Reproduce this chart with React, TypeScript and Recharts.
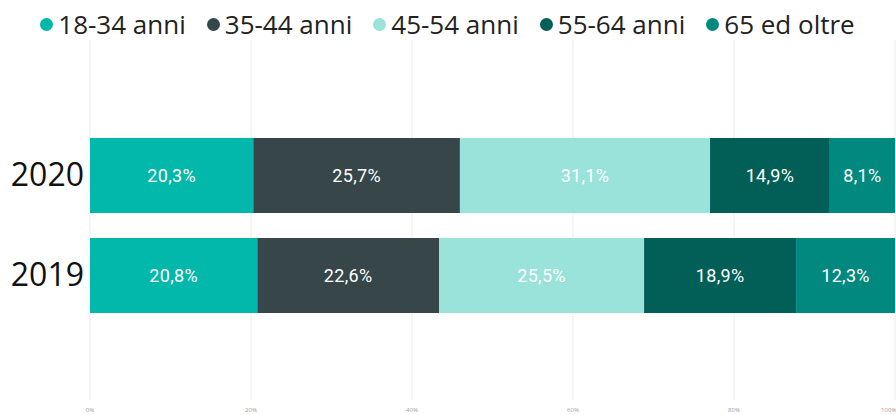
import React from 'react';
import { BarChart, Bar, XAxis, YAxis, CartesianGrid, Legend, LabelList } from 'recharts';

// anni e fasce d'età
const years = ['2020', '2019'];
const groups = ['18-34 anni', '35-44 anni', '45-54 anni', '55-64 anni', '65 ed oltre'];
const values2020 = [20.3, 25.7, 31.1, 14.9, 8.1];
const values2019 = [20.8, 22.6, 25.5, 18.9, 12.3];
const xTicks = [0, 0.2, 0.4, 0.6, 0.8, 1];

const colors = ['#01B8AA', '#374649', '#9AE3DB', '#015F57', '#01897F'];

const seriesByYear: Record<string, number[]> = { '2020': values2020, '2019': values2019 };

const data = years.map(y => {
  const row: Record<string, string | number> = { year: y };
  groups.forEach((g, i) => {
    row[g] = seriesByYear[y][i];
  });
  return row;
});

const fmt = (v: any) => `${Number(v).toFixed(1).replace('.', ',')}%`;

const LegendContent = () => (
  <div
    style={{
      display: 'flex',
      justifyContent: 'center',
      gap: 21,
      fontFamily: '"Open Sans", sans-serif',
      fontSize: 26,
      color: '#222',
      lineHeight: '32px',
    }}
  >
    {groups.map((g, i) => (
      <div key={g} style={{ display: 'flex', alignItems: 'center' }}>
        <span
          style={{
            width: 13,
            height: 13,
            borderRadius: '50%',
            background: colors[i],
            display: 'inline-block',
            marginRight: 5,
          }}
        />
        <span>{g}</span>
      </div>
    ))}
  </div>
);

const App: React.FC = () => {
  return (
    <div style={{ position: 'absolute', left: 0, top: 0, background: '#fff' }}>
      <BarChart
        width={896}
        height={415}
        data={data}
        layout="vertical"
        stackOffset="expand"
        margin={{ top: 0, right: 1, bottom: 0, left: 0 }}
      >
        <Legend
          verticalAlign="top"
          align="center"
          content={<LegendContent />}
          wrapperStyle={{ top: 8, height: 40 }}
        />
        <CartesianGrid horizontal={false} stroke="#ececec" />
        <XAxis
          type="number"
          domain={[0, 1]}
          ticks={xTicks}
          tickFormatter={(v: number) => `${Math.round(v * 100)}%`}
          axisLine={false}
          tickLine={false}
          tick={{ fontSize: 6, fill: '#999', fontFamily: '"Open Sans", sans-serif' }}
          height={15}
        />
        <YAxis
          type="category"
          dataKey="year"
          width={90}
          axisLine={false}
          tickLine={false}
          tickSize={0}
          tickMargin={6}
          padding={{ top: 85, bottom: 75 }}
          tick={{ fontSize: 32, fill: '#111', fontFamily: '"Open Sans", sans-serif' }}
        />
        {groups.map((g, i) => (
          <Bar key={g} dataKey={g} stackId="a" fill={colors[i]} barSize={75} isAnimationActive={false}>
            <LabelList
              dataKey={g}
              position="center"
              formatter={fmt}
              fill="#fff"
              style={{ fontSize: 18, fontFamily: 'Roboto, sans-serif', letterSpacing: 0.3 }}
            />
          </Bar>
        ))}
      </BarChart>
    </div>
  );
};

export default App;
